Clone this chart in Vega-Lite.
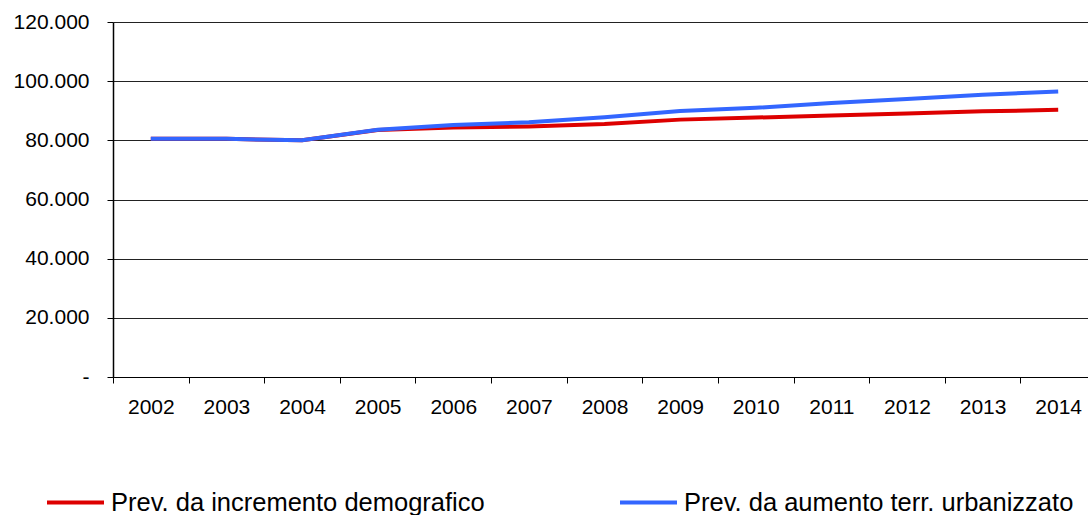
{
  "$schema": "https://vega.github.io/schema/vega-lite/v6.json",
  "width": 983,
  "height": 355,
  "autosize": {"type": "none"},
  "padding": {"left": 113, "top": 22, "right": 0, "bottom": 138},
  "background": "white",
  "config": {
    "view": {"stroke": null},
    "font": "Liberation Sans",
    "axis": {"labelFont": "Liberation Sans", "labelColor": "#000", "domainColor": "#000", "tickColor": "#000"}
  },
  "data": {
    "values": [
      {"anno": "2002", "serie": "Prev. da incremento demografico", "valore": 80500},
      {"anno": "2003", "serie": "Prev. da incremento demografico", "valore": 80500},
      {"anno": "2004", "serie": "Prev. da incremento demografico", "valore": 80000},
      {"anno": "2005", "serie": "Prev. da incremento demografico", "valore": 83500},
      {"anno": "2006", "serie": "Prev. da incremento demografico", "valore": 84300},
      {"anno": "2007", "serie": "Prev. da incremento demografico", "valore": 84700},
      {"anno": "2008", "serie": "Prev. da incremento demografico", "valore": 85500},
      {"anno": "2009", "serie": "Prev. da incremento demografico", "valore": 87000},
      {"anno": "2010", "serie": "Prev. da incremento demografico", "valore": 87700},
      {"anno": "2011", "serie": "Prev. da incremento demografico", "valore": 88400},
      {"anno": "2012", "serie": "Prev. da incremento demografico", "valore": 89100},
      {"anno": "2013", "serie": "Prev. da incremento demografico", "valore": 89800},
      {"anno": "2014", "serie": "Prev. da incremento demografico", "valore": 90300},
      {"anno": "2002", "serie": "Prev. da aumento terr. urbanizzato", "valore": 80500},
      {"anno": "2003", "serie": "Prev. da aumento terr. urbanizzato", "valore": 80500},
      {"anno": "2004", "serie": "Prev. da aumento terr. urbanizzato", "valore": 80000},
      {"anno": "2005", "serie": "Prev. da aumento terr. urbanizzato", "valore": 83600},
      {"anno": "2006", "serie": "Prev. da aumento terr. urbanizzato", "valore": 85200},
      {"anno": "2007", "serie": "Prev. da aumento terr. urbanizzato", "valore": 86100},
      {"anno": "2008", "serie": "Prev. da aumento terr. urbanizzato", "valore": 87800},
      {"anno": "2009", "serie": "Prev. da aumento terr. urbanizzato", "valore": 89900},
      {"anno": "2010", "serie": "Prev. da aumento terr. urbanizzato", "valore": 91000},
      {"anno": "2011", "serie": "Prev. da aumento terr. urbanizzato", "valore": 92600},
      {"anno": "2012", "serie": "Prev. da aumento terr. urbanizzato", "valore": 94000},
      {"anno": "2013", "serie": "Prev. da aumento terr. urbanizzato", "valore": 95400},
      {"anno": "2014", "serie": "Prev. da aumento terr. urbanizzato", "valore": 96500}
    ]
  },
  "encoding": {
    "x": {
      "field": "anno", "type": "ordinal", "bandPosition": 0.5,
      "scale": {"type": "band", "paddingInner": 0, "paddingOuter": 0},
      "axis": {"title": null, "labelAngle": 0, "labelFontSize": 21, "tickBand": "extent", "tickSize": 6, "labelPadding": 13, "domainWidth": 1, "grid": false}
    },
    "y": {
      "field": "valore", "type": "quantitative",
      "scale": {"domain": [0, 120000], "nice": false},
      "axis": {"title": null, "values": [0, 20000, 40000, 60000, 80000, 100000, 120000], "labelFontSize": 21, "tickSize": 6, "labelPadding": 18, "grid": true, "gridColor": "#222", "gridWidth": 1, "domainWidth": 1.5,
        "labelExpr": "datum.value == 0 ? '-' : replace(format(datum.value, ','), ',', '.')"}
    },
    "color": {
      "field": "serie", "type": "nominal",
      "scale": {"domain": ["Prev. da incremento demografico", "Prev. da aumento terr. urbanizzato"], "range": ["#DD0000", "#3366FF"]},
      "legend": {
        "title": null, "orient": "none", "legendX": -68, "legendY": 450, "direction": "horizontal", "columns": 2, "padding": 0,
        "columnPadding": 127, "symbolType": "stroke", "symbolSize": 3249, "symbolStrokeWidth": 4,
        "labelFontSize": 25.5, "labelOffset": 5, "labelLimit": 600, "labelColor": "#000", "labelFont": "Liberation Sans"
      }
    }
  },
  "layer": [
    {"transform": [{"filter": "datum.serie == 'Prev. da incremento demografico'"}], "mark": {"type": "line", "strokeWidth": 4}},
    {"transform": [{"filter": "datum.serie == 'Prev. da aumento terr. urbanizzato'"}], "mark": {"type": "line", "strokeWidth": 4}}
  ]
}
